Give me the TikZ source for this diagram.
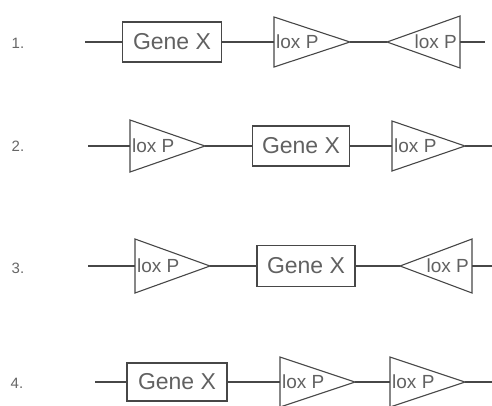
\documentclass[tikz,border=0pt]{standalone}
\usepackage{fontspec}
\setmainfont{Liberation Sans}
\begin{document}
\begin{tikzpicture}[x=1pt,y=-1pt,
  gl/.style={draw=black!72, line width=1.1pt},
  genebox/.style={gl, rectangle, inner sep=0pt, text=black!62,
    font=\fontsize{23}{23}\selectfont},
  loxtext/.style={inner sep=0pt, text=black!62,
    font=\fontsize{19}{19}\selectfont},
  numtext/.style={inner sep=0pt, text=black!60,
    font=\fontsize{15}{15}\selectfont}]
\useasboundingbox (0,0) rectangle (492,405);
% #1 name, #2 base x, #3 row y, #4 half height, #5 tip x
\newcommand\loxright[5]{%
  \draw[gl] (#2,{#3-#4}) -- (#5,#3) -- (#2,{#3+#4}) -- cycle;
  \coordinate (#1-in) at (#2,#3);
  \coordinate (#1-out) at (#5,#3);
  \node[loxtext, anchor=west] (#1) at ({#2+2},#3) {lox P};}
\newcommand\loxleft[5]{%
  \draw[gl] (#2,{#3-#4}) -- (#5,#3) -- (#2,{#3+#4}) -- cycle;
  \coordinate (#1-in) at (#5,#3);
  \coordinate (#1-out) at (#2,#3);
  \node[loxtext, anchor=east] (#1) at ({#2-3},#3) {lox P};}
% ---- row 1
\node[numtext] (n1) at (18,43) {1.};
\coordinate (s1) at (85,42);
\node[genebox, minimum width=99pt, minimum height=40pt] (g1) at (172,42) {Gene X};
\loxright{a1}{274}{42}{25}{350}
\loxleft{b1}{460}{42}{26}{387}
\coordinate (e1) at (485,42);
\draw[gl] (s1) -- (g1.west);
\draw[gl] (g1.east) -- (a1-in);
\draw[gl] (a1-out) -- (b1-in);
\draw[gl] (b1-out) -- (e1);
% ---- row 2
\node[numtext] (n2) at (18,146) {2.};
\coordinate (s2) at (88,146);
\loxright{a2}{130}{146}{26}{205}
\node[genebox, minimum width=97pt, minimum height=40pt] (g2) at (301,146) {Gene X};
\loxright{b2}{392}{146}{25}{465}
\coordinate (e2) at (492,146);
\draw[gl] (s2) -- (a2-in);
\draw[gl] (a2-out) -- (g2.west);
\draw[gl] (g2.east) -- (b2-in);
\draw[gl] (b2-out) -- (e2);
% ---- row 3
\node[numtext] (n3) at (18,268) {3.};
\coordinate (s3) at (88,266);
\loxright{a3}{135}{266}{27}{210}
\node[genebox, minimum width=98pt, minimum height=41pt] (g3) at (306,266) {Gene X};
\loxleft{b3}{472}{266}{27}{400}
\coordinate (e3) at (492,266);
\draw[gl] (s3) -- (a3-in);
\draw[gl] (a3-out) -- (g3.west);
\draw[gl] (g3.east) -- (b3-in);
\draw[gl] (b3-out) -- (e3);
% ---- row 4
\node[numtext] (n4) at (17,383) {4.};
\coordinate (s4) at (95,382);
\node[genebox, minimum width=100pt, minimum height=38pt] (g4) at (177,382) {Gene X};
\loxright{a4}{280}{382}{25}{355}
\loxright{b4}{390}{382}{25}{465}
\coordinate (e4) at (492,382);
\draw[gl] (s4) -- (g4.west);
\draw[gl] (g4.east) -- (a4-in);
\draw[gl] (a4-out) -- (b4-in);
\draw[gl] (b4-out) -- (e4);
\end{tikzpicture}
\end{document}
